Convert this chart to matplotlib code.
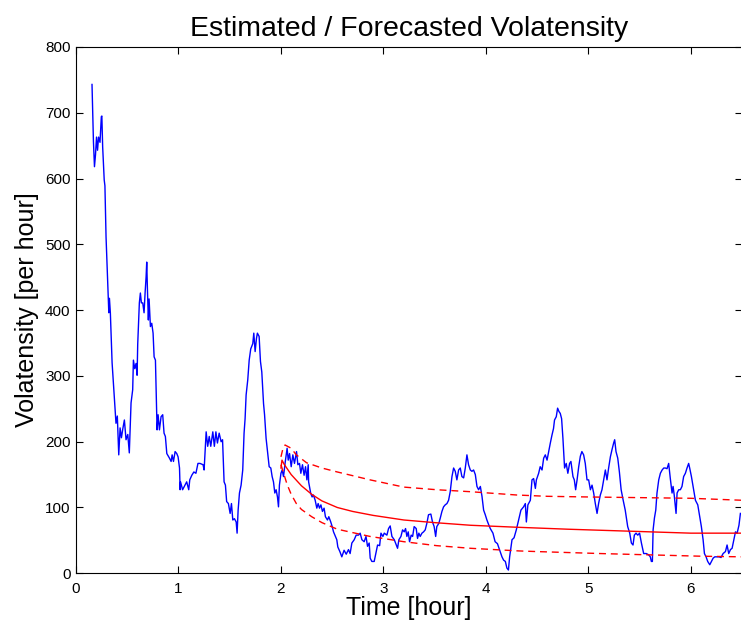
import numpy as np
import matplotlib
matplotlib.use("Agg")
import matplotlib.pyplot as plt

# Estimated volatensity (blue)
est_t = [
    0.156, 0.17, 0.18, 0.19, 0.20, 0.21, 0.22, 0.234, 0.247, 0.252, 0.26, 0.275, 0.282,
    0.293, 0.31, 0.32, 0.326, 0.335, 0.352, 0.358, 0.371, 0.39, 0.403, 0.417, 0.43,
    0.443, 0.456, 0.472, 0.488, 0.505, 0.52, 0.537, 0.553, 0.56, 0.573, 0.586, 0.596,
    0.602, 0.618, 0.628, 0.638, 0.651, 0.664, 0.674, 0.684, 0.69, 0.697, 0.706, 0.713,
    0.726, 0.739, 0.752, 0.762, 0.775, 0.791, 0.801, 0.814, 0.83, 0.846, 0.859, 0.872,
    0.886, 0.912, 0.928, 0.938, 0.951, 0.967, 0.983, 0.996, 1.01, 1.016, 1.02, 1.04,
    1.08, 1.10, 1.11, 1.13, 1.15, 1.17, 1.19, 1.21, 1.24, 1.25, 1.27, 1.285, 1.30,
    1.315, 1.335, 1.35, 1.365, 1.38, 1.397, 1.416, 1.43, 1.445, 1.458, 1.47, 1.487,
    1.504, 1.517, 1.53, 1.546, 1.563, 1.572, 1.582, 1.595, 1.611, 1.627, 1.64, 1.65,
    1.66, 1.676, 1.69, 1.705, 1.725, 1.735, 1.748, 1.761, 1.77, 1.787, 1.80, 1.813,
    1.83, 1.84, 1.855, 1.868, 1.885, 1.901, 1.914, 1.927, 1.94, 1.953, 1.966, 1.976,
    1.985, 2.0, 2.012, 2.025, 2.04, 2.06, 2.071, 2.084, 2.1, 2.116, 2.132, 2.152,
    2.165, 2.181, 2.194, 2.21, 2.226, 2.24, 2.253, 2.266, 2.27, 2.29, 2.304, 2.317,
    2.334, 2.35, 2.363, 2.376, 2.39, 2.405, 2.421, 2.434, 2.454, 2.467, 2.486, 2.5,
    2.513, 2.526, 2.545, 2.555, 2.575, 2.594, 2.616, 2.637, 2.659, 2.675, 2.692,
    2.715, 2.734, 2.757, 2.773, 2.79, 2.812, 2.83, 2.845, 2.861, 2.871, 2.887, 2.91,
    2.93, 2.943, 2.963, 2.976, 2.995, 3.008, 3.034, 3.05, 3.066, 3.083, 3.106, 3.125,
    3.138, 3.151, 3.171, 3.187, 3.203, 3.216, 3.229, 3.242, 3.255, 3.271, 3.285, 3.30,
    3.32, 3.333, 3.346, 3.359, 3.376, 3.392, 3.408, 3.424, 3.44, 3.463, 3.479, 3.495,
    3.51, 3.521, 3.541, 3.555, 3.571, 3.587, 3.603, 3.62, 3.636, 3.652, 3.669, 3.685,
    3.701, 3.717, 3.734, 3.75, 3.766, 3.783, 3.799, 3.815, 3.831, 3.848, 3.864, 3.88,
    3.897, 3.913, 3.929, 3.946, 3.962, 3.978, 3.994, 4.01, 4.027, 4.043, 4.069, 4.09,
    4.113, 4.133, 4.157, 4.173, 4.19, 4.205, 4.22, 4.232, 4.245, 4.255, 4.275, 4.297,
    4.32, 4.342, 4.368, 4.385, 4.395, 4.41, 4.434, 4.45, 4.466, 4.483, 4.493, 4.515,
    4.53, 4.548, 4.564, 4.58, 4.597, 4.613, 4.629, 4.645, 4.66, 4.67, 4.687, 4.70,
    4.713, 4.726, 4.739, 4.752, 4.768, 4.784, 4.8, 4.817, 4.83, 4.85, 4.863, 4.876,
    4.89, 4.906, 4.922, 4.937, 4.954, 4.97, 4.987, 5.003, 5.02, 5.036, 5.052, 5.068,
    5.085, 5.10, 5.117, 5.133, 5.15, 5.166, 5.182, 5.198, 5.215, 5.231, 5.247, 5.257,
    5.27, 5.287, 5.303, 5.32, 5.34, 5.36, 5.384, 5.404, 5.42, 5.436, 5.449, 5.465,
    5.482, 5.5, 5.518, 5.54, 5.566, 5.589, 5.605, 5.615, 5.625, 5.632, 5.645, 5.658,
    5.67, 5.687, 5.703, 5.72, 5.736, 5.752, 5.768, 5.784, 5.8, 5.817, 5.827, 5.838,
    5.856, 5.866, 5.882, 5.898, 5.914, 5.93, 5.947, 5.963, 5.979, 5.989, 6.006, 6.022,
    6.045, 6.068, 6.087, 6.103, 6.12, 6.133, 6.149, 6.165, 6.185, 6.201, 6.218, 6.234,
    6.257, 6.276, 6.295, 6.315, 6.338, 6.354, 6.37, 6.387, 6.403, 6.42, 6.436, 6.452,
    6.47, 6.484,
]
est_v = [
    743, 656, 618, 636, 663, 643, 663, 655, 694, 695, 648, 598, 589,
    511, 436, 396, 418, 396, 320, 305, 274, 228, 239, 180, 221,
    206, 219, 233, 203, 211, 183, 259, 279, 324, 311, 319, 301,
    348, 411, 426, 411, 411, 396, 426, 451, 473, 431, 385, 417,
    375, 380, 365, 329, 324, 218, 241, 218, 238, 241, 213, 208,
    182, 175, 170, 180, 170, 185, 182, 177, 160, 127, 139, 127,
    139, 127, 142, 149, 154, 152, 167, 167, 165, 157, 215, 193, 208,
    193, 215, 193, 215, 198, 213, 200, 203, 139, 134, 109, 106,
    91, 106, 81, 83, 78, 61, 96, 122, 134, 157, 213, 235,
    271, 294, 324, 341, 349, 365, 337, 357, 365, 360, 322, 306,
    258, 241, 205, 187, 162, 160, 147, 139, 122, 127, 116, 101,
    134, 152, 157, 147, 167, 190, 172, 182, 162, 180, 167, 185,
    165, 167, 152, 165, 149, 162, 142, 165, 139, 122, 116, 119,
    111, 99, 106, 99, 104, 94, 99, 86, 81, 86, 78, 71,
    63, 58, 51, 40, 33, 25, 35, 29, 36, 30, 46,
    51, 58, 58, 61, 51, 48, 56, 41, 46, 23, 18, 18,
    33, 43, 42, 61, 56, 61, 58, 68, 72, 56, 51, 43,
    38, 51, 56, 66, 63, 68, 56, 63, 48, 58, 56, 71,
    68, 53, 61, 56, 61, 63, 66, 76, 89, 90, 78, 71,
    56, 71, 76, 84, 94, 101, 104, 106, 111, 124, 147, 160,
    155, 142, 157, 160, 147, 145, 160, 180, 165, 157, 155, 157,
    150, 132, 127, 132, 117, 96, 89, 81, 74, 68, 61, 48,
    45, 36, 25, 20, 18, 8, 5, 25, 40, 51, 54, 66,
    81, 96, 101, 106, 78, 104, 111, 142, 144, 129, 142, 152,
    162, 157, 175, 180, 172, 185, 198, 210, 220, 233, 238, 251,
    246, 243, 235, 205, 160, 167, 152, 167, 170, 147, 142, 127,
    142, 162, 178, 185, 180, 167, 142, 142, 127, 134, 122, 106,
    91, 106, 119, 127, 142, 157, 142, 160, 177, 188, 198, 203,
    185, 175, 154, 127, 111, 96, 71, 61, 46, 43, 58, 61,
    58, 61, 46, 30, 30, 28, 25, 18, 18, 66, 84, 96,
    122, 142, 152, 157, 160, 160, 159, 167, 144, 122, 132, 119,
    91, 122, 127, 127, 132, 147, 152, 160, 167, 160, 147, 132,
    111, 104, 86, 71, 51, 30, 25, 18, 13, 18, 23, 25,
    25, 25, 24, 30, 33, 43, 30, 36, 38, 51, 63, 61,
    73, 91,
]

# Forecast (red solid) and its bands (red dashed)
fc_t = [2.0, 2.01, 2.03, 2.1, 2.2, 2.3, 2.4, 2.55, 2.7, 2.9, 3.2, 3.5, 3.85, 4.3,
        4.8, 5.2, 5.6, 6.0, 6.5]
fc_v = [160, 172, 166, 150, 133, 120, 110, 100, 94, 88, 81, 77, 73, 70,
        67, 65, 63, 61, 61]

up_t = [2.0, 2.02, 2.04, 2.1, 2.15, 2.25, 2.4, 2.55, 2.87, 3.2, 3.52, 3.85, 4.3,
        4.6, 5.0, 5.5, 6.0, 6.5]
up_v = [177, 190, 195, 190, 180, 168, 160, 154, 142, 131, 127, 124, 119,
        117, 116, 115, 114, 111]

lo_t = [2.0, 2.03, 2.06, 2.1, 2.15, 2.2, 2.3, 2.4, 2.55, 2.87, 3.2, 3.52, 3.85,
        4.32, 4.5, 5.12, 5.6, 6.09, 6.5]
lo_v = [165, 150, 135, 120, 106, 97, 86, 77, 67, 56, 48, 42, 38,
        34, 33, 30, 28, 26, 25]

plt.rcParams["font.family"] = ["Liberation Sans", "DejaVu Sans"]

fig = plt.figure(figsize=(7.41, 6.26), dpi=100)
ax = fig.add_axes([0.1026, 0.0842, 0.8988, 0.8408])

ax.plot(est_t, est_v, color="blue", lw=1.0)
ax.plot(fc_t, fc_v, color="red", lw=1.0)
ax.plot(up_t, up_v, color="red", lw=1.0, ls=(0, (5, 3.5)))
ax.plot(lo_t, lo_v, color="red", lw=1.0, ls=(0, (5, 3.5)))

ax.set_xlim(0, 6.5)
ax.set_ylim(0, 800)
ax.set_xticks(range(0, 7))
ax.set_yticks(range(0, 801, 100))
ax.tick_params(direction="in", top=True, right=True, length=5, width=0.8,
               labelsize=11)
ax.tick_params(axis="x", pad=6)
ax.tick_params(axis="y", pad=4)
for s in ax.spines.values():
    s.set_linewidth(0.8)

ax.set_xlabel("Time [hour]", fontsize=18, labelpad=0)
ax.set_ylabel("Volatensity [per hour]", fontsize=18, labelpad=4)
ax.set_title("Estimated / Forecasted Volatensity", fontsize=20.5, pad=8)

fig.savefig("out.png", dpi=100)
